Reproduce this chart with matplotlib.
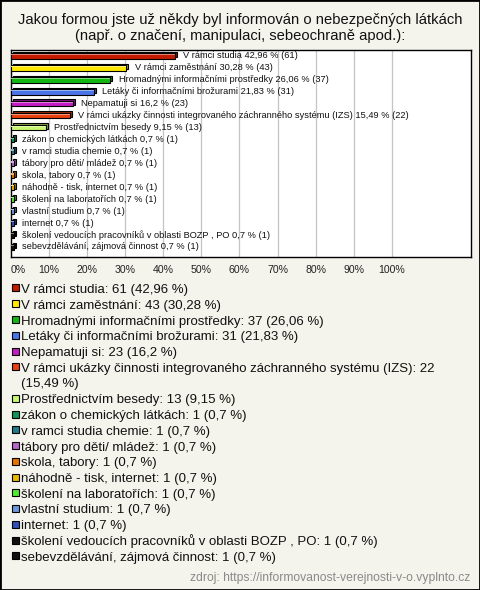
import textwrap
import matplotlib
matplotlib.use("Agg")
import matplotlib.pyplot as plt
import matplotlib.colors as mcolors
import matplotlib.transforms as mtransforms
from matplotlib.patches import Rectangle

plt.rcParams['font.family'] = ['Liberation Sans', 'DejaVu Sans']

# data
answers = [
    "V rámci studia",
    "V rámci zaměstnání",
    "Hromadnými informačními prostředky",
    "Letáky či informačními brožurami",
    "Nepamatuji si",
    "V rámci ukázky činnosti integrovaného záchranného systému (IZS)",
    "Prostřednictvím besedy",
    "zákon o chemických látkách",
    "v ramci studia chemie",
    "tábory pro děti/ mládež",
    "skola, tabory",
    "náhodně - tisk, internet",
    "školení na laboratořích",
    "vlastní studium",
    "internet",
    "školení vedoucích pracovníků v oblasti BOZP , PO",
    "sebevzdělávání, zájmová činnost",
]
counts = [61, 43, 37, 31, 23, 22, 13, 1, 1, 1, 1, 1, 1, 1, 1, 1, 1]
percents = [42.96, 30.28, 26.06, 21.83, 16.2, 15.49, 9.15,
            0.7, 0.7, 0.7, 0.7, 0.7, 0.7, 0.7, 0.7, 0.7, 0.7]
colors = ["#c41a00", "#ffe800", "#12b812", "#4a74e8", "#c41cc4", "#e8400e",
          "#c8f870", "#10955a", "#237a8a", "#b865c8", "#e87400", "#e8b800",
          "#50e830", "#6a98dc", "#3050b8", "#111111", "#111111"]
tick_values = [0, 10, 20, 30, 40, 50, 60, 70, 80, 90, 100]

title = ("Jakou formou jste už někdy byl informován o nebezpečných látkách\n"
         "(např. o značení, manipulaci, sebeochraně apod.):")
source = "zdroj: https://informovanost-verejnosti-v-o.vyplnto.cz"

W, H = 480, 590
bg = "#f4f3ec"


def pc(p):
    return f"{p:g}".replace(".", ",")


def shade(c, f):
    r, g, b = mcolors.to_rgb(c)
    if f > 0:
        return (r + (1 - r) * f, g + (1 - g) * f, b + (1 - b) * f)
    return (r * (1 + f), g * (1 + f), b * (1 + f))


fig = plt.figure(figsize=(W / 100, H / 100), dpi=100, facecolor=bg)
fig.add_artist(Rectangle((0, 0), 1, 1, transform=fig.transFigure, fill=False,
                         edgecolor="black", linewidth=2))

fig.text(0.5, 1 - 28 / H, title, ha="center", va="center", fontsize=10.6,
         linespacing=1.12, color="#111111")

ax = fig.add_axes([11 / W, 1 - 257 / H, 460 / W, 207 / H])
ax.set_facecolor("white")
ypos = list(range(len(answers)))

# pseudo 3D bars: a darker box behind, shifted right/up
back = mtransforms.offset_copy(ax.transData, fig=fig, x=2.0, y=1.5, units="dots")
ax.barh(ypos, percents, height=0.46, color=[shade(c, -0.35) for c in colors],
        edgecolor="black", linewidth=0.8, zorder=3, transform=back)
ax.barh(ypos, percents, height=0.46, color=colors, edgecolor="black",
        linewidth=0.8, zorder=4)
ax.barh([y - 0.12 for y in ypos], percents, height=0.1,
        color=[shade(c, 0.45) for c in colors], linewidth=0, zorder=5)
for y, a, p, n in zip(ypos, answers, percents, counts):
    ax.annotate(f"{a} {pc(p)} % ({n})", (p, y), xytext=(6, 0),
                textcoords="offset points", va="center", ha="left",
                fontsize=6.7, color="#111111", zorder=6)

ax.set_xlim(0, 120.8)
ax.set_ylim(16.84, -0.5)
ax.set_yticks([])
ax.set_xticks(tick_values)
labels = ax.set_xticklabels([f"{t}%" for t in tick_values], fontsize=7.6,
                            color="#222222")
labels[0].set_horizontalalignment("left")
ax.tick_params(axis="x", length=0, pad=6)
ax.grid(axis="x", color="#c4c4c4", linewidth=0.9, zorder=0)
for s in ax.spines.values():
    s.set_linewidth(1.0)
    s.set_color("black")

# legend
y0 = 288.5
step = 15.75
line = 0
for a, p, n, c in zip(answers, percents, counts, colors):
    lines = textwrap.wrap(f"{a}: {n} ({pc(p)} %)", width=68)
    yy = y0 + line * step
    fig.add_artist(Rectangle((12 / W, 1 - (yy + 3) / H), 7 / W, 7 / H,
                             transform=fig.transFigure, facecolor=c,
                             edgecolor="black", linewidth=0.8))
    for k, ln in enumerate(lines):
        fig.text(21 / W, 1 - (yy + 4.5 + k * step) / H, ln, ha="left",
                 va="baseline", fontsize=9.5, color="#111111")
    line += len(lines)

fig.text(470 / W, 1 - 578 / H, source, ha="right", va="center",
         fontsize=8.7, color="#8a8a8a")

fig.savefig("out.png", dpi=100, facecolor=bg)
